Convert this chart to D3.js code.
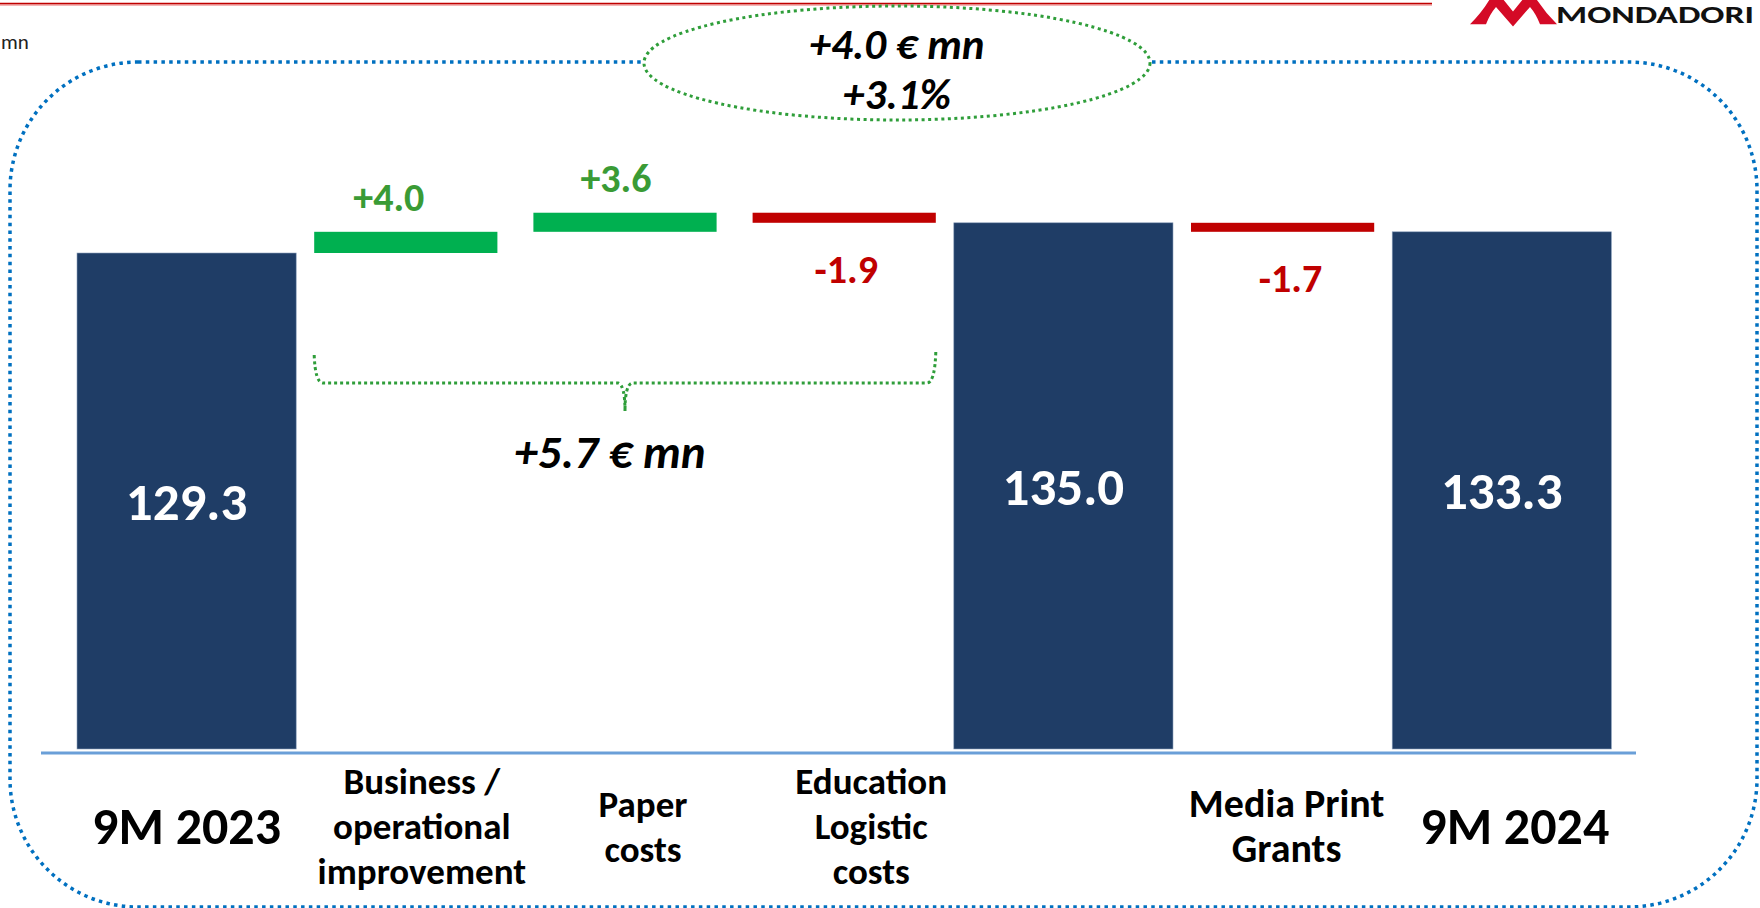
<!DOCTYPE html>
<html>
<head>
<meta charset="utf-8">
<script src="https://cdn.jsdelivr.net/npm/d3@7"></script>
<style>
  body { margin: 0; background: #fff; }
  svg { display: block; }
  text { font-family: Calibri, Carlito, Lato, sans-serif; }
</style>
</head>
<body>
<div id="chart"></div>
<script>
// chart values (EBITDA bridge, € mn)
var categories = ["9M 2023", "Business / operational improvement", "Paper costs",
                  "Education Logistic costs", "Subtotal", "Media Print Grants", "9M 2024"];
var categoryLines = [["9M 2023"], ["Business /", "operational", "improvement"], ["Paper", "costs"],
                     ["Education", "Logistic", "costs"], [], ["Media Print", "Grants"], ["9M 2024"]];
var barTypes = ["total", "delta", "delta", "delta", "total", "delta", "total"];
var values = [129.3, 4.0, 3.6, -1.9, 135.0, -1.7, 133.3];
var valueLabels = ["129.3", "+4.0", "+3.6", "-1.9", "135.0", "-1.7", "133.3"];
var bracketRange = [1, 3];
var bracketLabel = "+5.7 € mn";
var totalChangeLines = ["+4.0 € mn", "+3.1%"];
var unitLabel = "mn";

window.onload = function() {
	drawChart();
};


function drawChart() {
	var width = 1760,
		height = 908;

	var svg = d3.select("#chart").append("svg")
		.attr("width", width)
		.attr("height", height);

	drawFrame(svg);

	// the slide uses a broken axis, bars start well above zero
	var axisFloor = 35.7;
	var x = d3.scaleBand()
		.domain(categories)
		.range([77, 1611.4])
		.padding(0);
	var y = d3.scaleLinear()
		.domain([axisFloor, 129.3])
		.range([749, 253]);

	var inset = 18;
	var labelShift = [0, 16, 18, 27, 0, 4, 13];
	var valueShift = [0, -17, -9, 2, 0, 8, 0];

	// running totals for the waterfall
	var running = 0;
	var steps = values.map(function(v, i) {
		var s;
		if (barTypes[i] == "total") {
			s = {lo: axisFloor, hi: v, type: "total"};
			running = v;
		} else {
			s = {lo: Math.min(running, running + v), hi: Math.max(running, running + v),
				type: v >= 0 ? "up" : "down"};
			running += v;
		}
		s.cat = categories[i];
		s.label = valueLabels[i];
		s.lines = categoryLines[i];
		s.i = i;
		return s;
	});

	var colors = {total: "#1f3d66", up: "#00b050", down: "#c00000"};
	var textColors = {up: "#3a9b35", down: "#c00000"};

	svg.append("g").selectAll("rect")
		.data(steps)
		.enter()
		.append("rect")
		.attr("x", function(d) { return x(d.cat) + (d.type == "total" ? 0 : inset); })
		.attr("width", function(d) { return x.bandwidth() - (d.type == "total" ? 0 : 2 * inset); })
		.attr("y", function(d) { return y(d.hi); })
		.attr("height", function(d) { return y(d.lo) - y(d.hi); })
		.attr("fill", function(d) { return colors[d.type]; })
		.attr("stroke", function(d) { return d.type == "total" ? "#8ea2bd" : "none"; })
		.attr("stroke-width", 0.6);

	// baseline
	svg.append("line")
		.attr("x1", 41).attr("x2", 1636)
		.attr("y1", y(axisFloor) + 4).attr("y2", y(axisFloor) + 4)
		.attr("stroke", "#6a9fd8")
		.attr("stroke-width", 3);

	// value labels
	svg.append("g").selectAll("text")
		.data(steps)
		.enter()
		.append("text")
		.attr("x", function(d) { return x(d.cat) + x.bandwidth() / 2 + valueShift[d.i]; })
		.attr("y", function(d) {
			if (d.type == "total") return (y(d.lo) + y(d.hi)) / 2 + 19;
			if (d.type == "up") return y(d.hi) - 21;
			return y(d.lo) + 60;
		})
		.attr("text-anchor", "middle")
		.attr("font-weight", "bold")
		.attr("font-size", function(d) { return d.type == "total" ? 53 : 40; })
		.attr("fill", function(d) { return d.type == "total" ? "#ffffff" : textColors[d.type]; })
		.text(function(d) { return d.label; });

	// category labels under the axis
	var catCenter = 826,
		lineGap = 45;
	var cats = svg.append("g").selectAll("text")
		.data(steps.filter(function(d) { return d.lines.length > 0; }))
		.enter()
		.append("text")
		.attr("text-anchor", "middle")
		.attr("font-weight", "bold")
		.attr("font-size", function(d) { return d.type == "total" ? 52 : (d.i == 5 ? 40 : 37); })
		.attr("fill", "#000");
	cats.selectAll("tspan")
		.data(function(d) {
			return d.lines.map(function(l, k) {
				var cap = d.type == "total" ? 18 : 13;
				return {t: l, x: x(d.cat) + x.bandwidth() / 2 + labelShift[d.i],
					y: catCenter + cap + (k - (d.lines.length - 1) / 2) * lineGap};
			});
		})
		.enter()
		.append("tspan")
		.attr("x", function(d) { return d.x; })
		.attr("y", function(d) { return d.y; })
		.text(function(d) { return d.t; });

	// dotted bracket over the three operating items
	var green = "#2f9e3a";
	var bl = x(categories[bracketRange[0]]) + inset,
		br = x(categories[bracketRange[1]]) + x.bandwidth() - inset,
		bm = (bl + br) / 2,
		bTop = 355, bMid = 383, bTip = 411;
	var bracket = d3.path();
	bracket.moveTo(bl, bTop);
	bracket.quadraticCurveTo(bl + 1, bMid, bl + 9, bMid);
	bracket.lineTo(bm - 7, bMid);
	bracket.quadraticCurveTo(bm, bMid + 2, bm, bTip);
	bracket.moveTo(br, bTop - 3);
	bracket.quadraticCurveTo(br - 1, bMid, br - 9, bMid);
	bracket.lineTo(bm + 7, bMid);
	bracket.quadraticCurveTo(bm, bMid + 2, bm, bTip);
	svg.append("path")
		.attr("d", bracket.toString())
		.attr("fill", "none")
		.attr("stroke", green)
		.attr("stroke-width", 3)
		.attr("stroke-dasharray", "3 3");

	svg.append("text")
		.attr("x", bm - 15)
		.attr("y", 468)
		.attr("text-anchor", "middle")
		.attr("font-weight", "bold")
		.attr("font-style", "italic")
		.attr("font-size", 47)
		.attr("fill", "#000")
		.text(bracketLabel);

	// overall change in the ellipse
	svg.append("ellipse")
		.attr("cx", 897).attr("cy", 63)
		.attr("rx", 253).attr("ry", 57)
		.attr("fill", "#fff")
		.attr("stroke", green)
		.attr("stroke-width", 3)
		.attr("stroke-dasharray", "3 3.5");

	svg.append("g").selectAll("text")
		.data(totalChangeLines)
		.enter()
		.append("text")
		.attr("x", 897)
		.attr("y", function(d, i) { return 59 + i * 50; })
		.attr("text-anchor", "middle")
		.attr("font-weight", "bold")
		.attr("font-style", "italic")
		.attr("font-size", 43)
		.attr("fill", "#000")
		.text(function(d) { return d; });
};


function drawFrame(svg) {
	// red rule at the top of the slide
	svg.append("line")
		.attr("x1", 0).attr("x2", 1432)
		.attr("y1", 5).attr("y2", 5)
		.attr("stroke", "#f4b6b6").attr("stroke-width", 2);
	svg.append("line")
		.attr("x1", 0).attr("x2", 1432)
		.attr("y1", 3.5).attr("y2", 3.5)
		.attr("stroke", "#c00000").attr("stroke-width", 1.6);

	// logo
	svg.append("path")
		.attr("transform", "translate(1470,0) scale(1,1.15)")
		.attr("d", "M0,21 L16,21 Q20,12 26,6 L43,23 L60,6 Q66,12 70,21 L87,21 Q74,10 64,-4 L56,-4 L43,10 L30,-4 L22,-4 Q13,10 0,21 Z")
		.attr("fill", "#d40a26");
	svg.append("text")
		.attr("x", 1556)
		.attr("y", 23)
		.attr("font-family", "'Liberation Serif', 'DejaVu Serif', serif")
		.attr("font-weight", "bold")
		.attr("font-size", 24)
		.attr("textLength", 198)
		.attr("lengthAdjust", "spacingAndGlyphs")
		.attr("fill", "#111")
		.text("MONDADORI");

	svg.append("text")
		.attr("x", 1)
		.attr("y", 49)
		.attr("font-size", 21)
		.attr("fill", "#222")
		.text(unitLabel);

	// blue dotted rounded frame
	svg.append("rect")
		.attr("x", 10).attr("y", 62)
		.attr("width", 1747).attr("height", 845)
		.attr("rx", 128).attr("ry", 128)
		.attr("fill", "none")
		.attr("stroke", "#0070c0")
		.attr("stroke-width", 3.5)
		.attr("stroke-dasharray", "3.5 4.3");
};
</script>
</body>
</html>
